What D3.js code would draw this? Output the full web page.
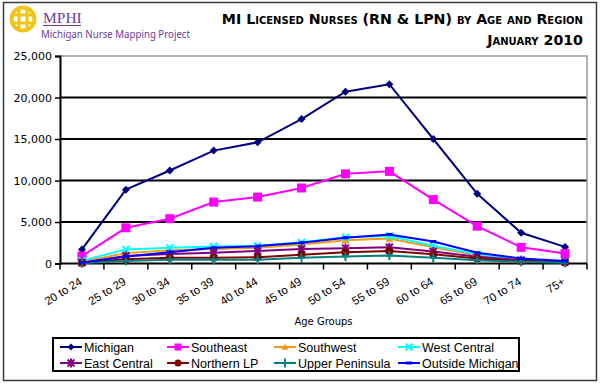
<!DOCTYPE html>
<html>
<head>
<meta charset="utf-8">
<script src="https://cdn.jsdelivr.net/npm/d3@7"></script>
<style>
  body { margin: 0; background: #fff; }
  svg { display: block; }
</style>
</head>
<body>
<svg id="chart" width="600" height="384"></svg>
<script>
// age groups on the x axis
const ageGroups = ["20 to 24", "25 to 29", "30 to 34", "35 to 39", "40 to 44", "45 to 49",
                   "50 to 54", "55 to 59", "60 to 64", "65 to 69", "70 to 74", "75+"];

// nurses per region
const michigan        = [1700, 8900, 11200, 13600, 14600, 17400, 20700, 21600, 15000, 8400, 3700, 2000];
const southeast       = [900, 4300, 5400, 7400, 8000, 9100, 10800, 11100, 7700, 4500, 1950, 1200];
const southwest       = [200, 1250, 1600, 1750, 1900, 2300, 2800, 3000, 1950, 1000, 400, 200];
const westCentral     = [350, 1700, 1900, 2050, 2100, 2550, 3150, 3300, 2150, 1100, 450, 200];
const eastCentral     = [100, 900, 1150, 1300, 1500, 1750, 1850, 1950, 1450, 800, 400, 200];
const northernLP      = [100, 500, 700, 700, 750, 1050, 1350, 1500, 1100, 600, 300, 120];
const upperPeninsula  = [50, 300, 450, 450, 450, 700, 850, 950, 700, 400, 200, 80];
const outsideMichigan = [100, 850, 1350, 1900, 2100, 2500, 3100, 3500, 2650, 1300, 600, 300];

const yTicks = [0, 5000, 10000, 15000, 20000, 25000];

const series = [
  { name: "Michigan",         values: michigan,        color: "#000080", marker: "diamond" },
  { name: "Southeast",        values: southeast,       color: "#ff00ff", marker: "square" },
  { name: "Southwest",        values: southwest,       color: "#f39c12", marker: "triangle" },
  { name: "West Central",     values: westCentral,     color: "#00ffff", marker: "x" },
  { name: "East Central",     values: eastCentral,     color: "#800080", marker: "star" },
  { name: "Northern LP",      values: northernLP,      color: "#800000", marker: "circle" },
  { name: "Upper Peninsula",  values: upperPeninsula,  color: "#008080", marker: "plus" },
  { name: "Outside Michigan", values: outsideMichigan, color: "#0000ff", marker: "dash" }
];

const svg = d3.select("#chart");

// outer frame
svg.append("rect")
  .attr("x", 3.5).attr("y", 2.5).attr("width", 593).attr("height", 378)
  .attr("fill", "#fff").attr("stroke", "#3a3a3a").attr("stroke-width", 1.5);

// logo (rough)
const logo = svg.append("g").attr("transform", "translate(23,19)");
logo.append("circle").attr("r", 11.5).attr("fill", "none").attr("stroke", "#f0c419").attr("stroke-width", 4);
[-4, 4].forEach(d => {
  logo.append("line").attr("x1", d).attr("x2", d).attr("y1", -9).attr("y2", 9)
    .attr("stroke", "#f0c419").attr("stroke-width", 3);
  logo.append("line").attr("y1", d).attr("y2", d).attr("x1", -9).attr("x2", 9)
    .attr("stroke", "#f0c419").attr("stroke-width", 3);
});
svg.append("text").attr("x", 43).attr("y", 22.5)
  .attr("font-family", "Liberation Serif, serif").attr("font-size", 15.5)
  .attr("fill", "#6a3d9a").text("MPHI");
svg.append("line").attr("x1", 43).attr("x2", 81).attr("y1", 25.5).attr("y2", 25.5)
  .attr("stroke", "#6a3d9a").attr("stroke-width", 1);
svg.append("text").attr("x", 41).attr("y", 38)
  .attr("font-family", "Noto Sans, sans-serif").attr("font-size", 10)
  .attr("textLength", 149).attr("lengthAdjust", "spacingAndGlyphs")
  .attr("fill", "#6a3d9a").text("Michigan Nurse Mapping Project");

// title
const title = svg.append("g")
  .attr("font-family", "DejaVu Sans, Verdana, sans-serif")
  .attr("font-weight", "bold").attr("font-size", 14.2)
  .style("font-variant", "small-caps").attr("text-anchor", "end").attr("fill", "#000");
title.append("text").attr("x", 583).attr("y", 24).text("MI Licensed Nurses (RN & LPN) by Age and Region");
title.append("text").attr("x", 583).attr("y", 45).text("January 2010");

// plot area
const margin = { left: 60, right: 587, top: 56, bottom: 263.5 };

const x = d3.scaleBand().domain(ageGroups).range([margin.left, margin.right]);
const y = d3.scaleLinear().domain([0, 25000]).range([margin.bottom, margin.top]);

// gridlines
svg.append("g")
  .selectAll("line").data(yTicks.filter(d => d > 0 && d < 25000)).join("line")
  .attr("x1", margin.left).attr("x2", margin.right)
  .attr("y1", d => y(d)).attr("y2", d => y(d))
  .attr("stroke", "#000").attr("stroke-width", 2);

// plot border (top / right)
svg.append("path")
  .attr("d", `M${margin.left},${y(25000)}H${margin.right}V${margin.bottom}`)
  .attr("fill", "none").attr("stroke", "#999").attr("stroke-width", 1.5);

// y axis
const yAxis = svg.append("g")
  .attr("transform", `translate(${margin.left},0)`)
  .call(d3.axisLeft(y).tickValues(yTicks).tickSize(5).tickPadding(3).tickFormat(d3.format(",")));
yAxis.select(".domain").attr("stroke", "#000").attr("stroke-width", 2);
yAxis.selectAll(".tick line").attr("stroke", "#000").attr("stroke-width", 1.5);
yAxis.selectAll("text")
  .attr("font-family", "DejaVu Sans, Verdana, sans-serif").attr("font-size", 11).attr("fill", "#000");

// x axis: ticks between categories
const xAxis = svg.append("g").attr("transform", `translate(0,${margin.bottom})`);
xAxis.append("line").attr("x1", margin.left).attr("x2", margin.right)
  .attr("stroke", "#000").attr("stroke-width", 2);
xAxis.selectAll(".tk").data(ageGroups.concat([null])).join("line")
  .attr("class", "tk")
  .attr("x1", (d, i) => margin.left + i * x.bandwidth())
  .attr("x2", (d, i) => margin.left + i * x.bandwidth())
  .attr("y1", 0).attr("y2", 6)
  .attr("stroke", "#000").attr("stroke-width", 1.5);
xAxis.selectAll(".lbl").data(ageGroups).join("text")
  .attr("class", "lbl")
  .attr("transform", d => `translate(${x(d) + x.bandwidth() / 2 + 1},${20}) rotate(-32)`)
  .attr("text-anchor", "end")
  .attr("font-family", "Liberation Sans, Arial, sans-serif").attr("font-size", 11.5)
  .attr("fill", "#000").text(d => d);

svg.append("text").attr("x", (margin.left + margin.right) / 2).attr("y", 325)
  .attr("text-anchor", "middle")
  .attr("font-family", "DejaVu Sans, Verdana, sans-serif").attr("font-size", 10)
  .attr("fill", "#000").text("Age Groups");

// markers
function markerPath(type, s) {
  const h = s / 2;
  switch (type) {
    case "diamond": return `M0,${-h}L${h},0L0,${h}L${-h},0Z`;
    case "square": return `M${-h},${-h}H${h}V${h}H${-h}Z`;
    case "triangle": return `M0,${-h}L${h},${h * 0.8}H${-h}Z`;
    case "circle": return d3.symbol(d3.symbolCircle, Math.PI * h * h)();
    default: return "";
  }
}
function drawMarker(g, type, color, size) {
  const h = size / 2;
  if (type === "x" || type === "star" || type === "plus") {
    let d = "";
    if (type !== "plus") d += `M${-h},${-h}L${h},${h}M${-h},${h}L${h},${-h}`;
    if (type !== "x") d += `M0,${-h - 1}V${h + 1}`;
    if (type === "plus") d += `M${-h},0H${h}`;
    g.append("path").attr("d", d).attr("stroke", color).attr("stroke-width", 2).attr("fill", "none");
  } else if (type === "dash") {
    g.append("rect").attr("x", -3).attr("y", -1.5).attr("width", 6).attr("height", 3).attr("fill", color);
  } else {
    g.append("path").attr("d", markerPath(type, size)).attr("fill", color);
  }
}
const markerSize = { diamond: 8, square: 9, triangle: 8, x: 7, star: 7, circle: 8, plus: 7, dash: 6 };

const line = d3.line()
  .x((d, i) => x(ageGroups[i]) + x.bandwidth() / 2)
  .y(d => y(d));

series.forEach(s => {
  const g = svg.append("g");
  g.append("path").attr("d", line(s.values))
    .attr("fill", "none").attr("stroke", s.color).attr("stroke-width", 2);
  s.values.forEach((v, i) => {
    const m = g.append("g")
      .attr("transform", `translate(${x(ageGroups[i]) + x.bandwidth() / 2},${y(v)})`);
    drawMarker(m, s.marker, s.color, markerSize[s.marker]);
  });
});

// legend
svg.append("rect").attr("x", 53).attr("y", 338).attr("width", 466).attr("height", 33)
  .attr("fill", "#fff").attr("stroke", "#000").attr("stroke-width", 2);
const colX = [60, 167, 274, 398];
const rowY = [347, 363];
series.forEach((s, i) => {
  const lx = colX[i % 4], ly = rowY[Math.floor(i / 4)];
  const g = svg.append("g").attr("transform", `translate(${lx},${ly})`);
  g.append("line").attr("x1", 0).attr("x2", 22).attr("stroke", s.color).attr("stroke-width", 2);
  const m = g.append("g").attr("transform", "translate(11,0)");
  drawMarker(m, s.marker, s.color, Math.min(markerSize[s.marker], 7));
  g.append("text").attr("x", 24).attr("y", 4.5)
    .attr("font-family", "Liberation Sans, Arial, sans-serif").attr("font-size", 12.5)
    .attr("fill", "#000").text(s.name);
});
</script>
</body>
</html>
